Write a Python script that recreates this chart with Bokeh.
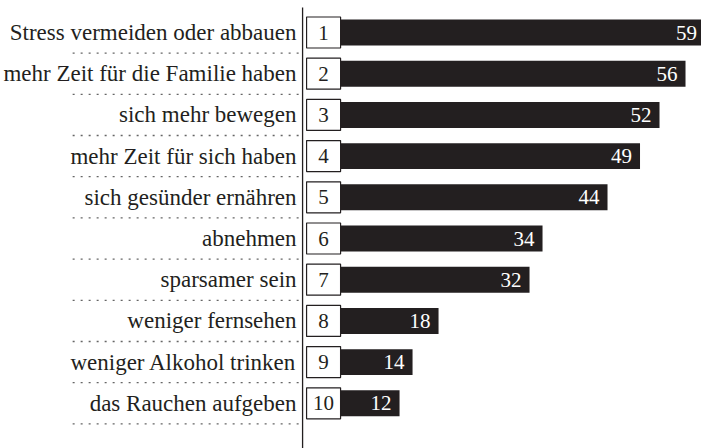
from bokeh.plotting import figure
from bokeh.models import Range1d, ColumnDataSource
from bokeh.embed import file_html
from bokeh.resources import INLINE
from bokeh.core.properties import value

labels = ["Stress vermeiden oder abbauen", "mehr Zeit für die Familie haben",
          "sich mehr bewegen", "mehr Zeit für sich haben", "sich gesünder ernähren",
          "abnehmen", "sparsamer sein", "weniger fernsehen",
          "weniger Alkohol trinken", "das Rauchen aufgeben"]
ranks = [1, 2, 3, 4, 5, 6, 7, 8, 9, 10]
values = [59, 56, 52, 49, 44, 34, 32, 18, 14, 12]

FONT = "Liberation Serif"
INK = "#231f20"

src = ColumnDataSource(dict(
    label=labels, rank=ranks, val=values,
    rank_txt=[str(r) for r in ranks], val_txt=[str(v) for v in values],
    sep=[r + 0.5 for r in ranks],
))

p = figure(width=701, height=448, output_backend="svg", toolbar_location=None,
           x_range=Range1d(-49.4, 58.46), y_range=Range1d(11.097, 0.223),
           min_border=0, outline_line_color=None)
p.axis.visible = False
p.grid.visible = False
p.background_fill_color = "white"
p.border_fill_color = "white"

# bars
p.hbar(y="rank", left=0, right="val", height=0.63, source=src,
       fill_color=INK, line_color=None)

# value labels
p.text(x="val", y="rank", text="val_txt", source=src, x_offset=-8,
       text_align="right", text_baseline="middle", text_color="white",
       text_font=value(FONT), text_font_size="21px")

# rank boxes
p.rect(x=0.31, y="rank", width=34, height=31, width_units="screen",
       height_units="screen", source=src, fill_color="white",
       line_color=INK, line_width=1.2)
p.text(x=0.31, y="rank", text="rank_txt", source=src,
       text_align="center", text_baseline="middle", text_color=INK,
       text_font=value(FONT), text_font_size="21px")

# vertical axis line
p.segment(x0=-2.92, y0=0.393, x1=-2.92, y1=11.2, line_color=INK, line_width=1.3)

# dotted separators
p.segment(x0=-38.3, y0="sep", x1=-3.23, y1="sep", source=src,
          line_color="#666666", line_width=1.3, line_dash="2 6")

# category labels
p.text(x=-3.85, y="rank", text="label", source=src,
       text_align="right", text_baseline="middle", text_color=INK,
       text_font=value(FONT), text_font_size="23px")

open("out.html", "w").write(file_html(p, INLINE))
